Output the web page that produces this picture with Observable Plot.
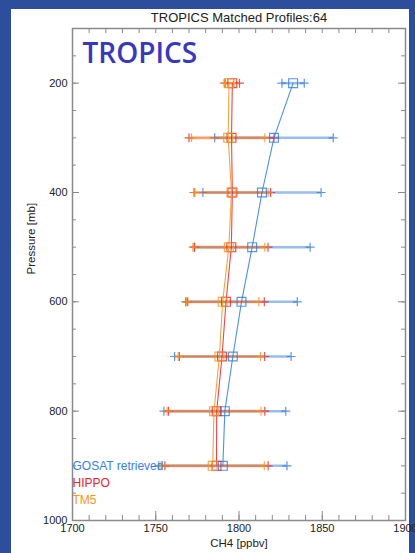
<!DOCTYPE html>
<html><head><meta charset="utf-8">
<script src="https://cdn.jsdelivr.net/npm/d3@7"></script>
<script src="https://cdn.jsdelivr.net/npm/@observablehq/plot@0.6"></script>
<style>
html,body{margin:0;padding:0;width:415px;height:553px;overflow:hidden;background:#2d4e9c;}
#panel{position:absolute;left:11px;top:9px;width:398px;height:544px;background:#fff;}
#chart{position:absolute;left:0;top:0;}
</style></head>
<body><div id="panel"></div><div id="chart"></div>
<script>
// ---- data ----
const levels = [200, 300, 400, 500, 600, 700, 800, 900];
const seriesNames = ["GOSAT retrieved", "HIPPO", "TM5"];
const gosat    = [1832.5, 1821.0, 1813.8, 1807.9, 1801.5, 1796.3, 1791.5, 1790.3];
const gosatErr = [6.7, 35.6, 35.5, 34.8, 33.5, 35.0, 36.6, 38.5];
const hippo    = [1796.0, 1795.5, 1796.0, 1795.4, 1792.2, 1789.8, 1786.6, 1786.5];
const hippoErr = [4.3, 25.5, 23.0, 22.0, 23.0, 25.6, 28.9, 31.0];
const tm5      = [1794.0, 1793.5, 1795.5, 1793.9, 1790.2, 1788.2, 1785.0, 1784.2];
const tm5Err   = [3.0, 22.0, 22.0, 21.6, 21.7, 24.7, 28.2, 31.0];
const xMajor = [1700, 1750, 1800, 1850, 1900];
const xMinor = d3.range(1700, 1901, 10);
const yMajor = [200, 400, 600, 800, 1000];
const yMinor = d3.range(100, 1001, 50);
const titleText = "TROPICS Matched Profiles:64";
const regionLabel = "TROPICS";
const xLabel = "CH4 [ppbv]";
const yLabel = "Pressure [mb]";

// ---- layout / style ----
const W = 415, H = 553, ML = 72, MR = 10, MT = 28, MB = 33;
const FW = W - ML - MR, FH = H - MT - MB;
const colors = ["#2f7be3", "#e8262b", "#f7931e"];
const legendColors = ["#3a80e6", "#e8262b", "#f7931e"];
const barWidths = [2.5, 2, 3.2];
const barOpacity = [0.5, 0.45, 0.4];
const axisColor = "#8a8a8a";

const values = [gosat, hippo, tm5];
const errs = [gosatErr, hippoErr, tm5Err];

const seriesMarks = [];
seriesNames.forEach((name, i) => {
  const rows = levels.map((p, j) => ({s: name, p, v: values[i][j], e: errs[i][j]}));
  const ends = rows.flatMap(d => [{p: d.p, x: d.v - d.e}, {p: d.p, x: d.v + d.e}]);
  seriesMarks.push(
    Plot.ruleY(rows, {y: "p", x1: d => d.v - d.e, x2: d => d.v + d.e, stroke: colors[i], strokeOpacity: barOpacity[i], strokeWidth: barWidths[i]}),
    Plot.dot(ends, {x: "x", y: "p", symbol: "plus", r: 3, stroke: colors[i], strokeWidth: 1.2, strokeOpacity: 0.8})
  );
});
seriesNames.forEach((name, i) => {
  const rows = levels.map((p, j) => ({s: name, p, v: values[i][j]}));
  seriesMarks.push(
    Plot.line(rows, {x: "v", y: "p", stroke: colors[i], strokeWidth: 1.1, strokeOpacity: 0.85}),
    Plot.dot(rows, {x: "v", y: "p", symbol: "square", r: 5, stroke: colors[i], fill: "none", strokeWidth: 1.2, strokeOpacity: 0.8})
  );
});

const legendMarks = seriesNames.map((name, i) =>
  Plot.text([name], {frameAnchor: "bottom-left", lineAnchor: "middle", textAnchor: "start",
    dy: -54 + i * 17, fontSize: 12, fill: legendColors[i]})
);

const chart = Plot.plot({
  width: W, height: H,
  marginLeft: ML, marginRight: MR, marginTop: MT, marginBottom: MB,
  style: {background: "transparent", fontFamily: "'Liberation Sans', Arial, Helvetica, sans-serif", fontSize: "11px", overflow: "visible"},
  x: {domain: [1700, 1900]},
  y: {domain: [100, 1000], reverse: true},
  marks: [
    Plot.tickX(xMinor, {x: d => d, stroke: axisColor, insetTop: FH - 5}),
    Plot.tickX(xMajor, {x: d => d, stroke: axisColor, insetTop: FH - 9}),
    Plot.tickX(xMinor, {x: d => d, stroke: axisColor, insetBottom: FH - 5}),
    Plot.tickY(yMinor, {y: d => d, stroke: axisColor, insetRight: FW - 4}),
    Plot.tickY(yMajor, {y: d => d, stroke: axisColor, insetRight: FW - 7}),
    Plot.tickY(yMinor, {y: d => d, stroke: axisColor, insetLeft: FW - 4}),
    Plot.tickY(yMajor, {y: d => d, stroke: axisColor, insetLeft: FW - 7}),
    Plot.axisX({ticks: xMajor, tickSize: 0, tickPadding: 4, tickFormat: d => String(d), label: null, anchor: "bottom", fill: "#222"}),
    Plot.axisY({ticks: yMajor, tickSize: 0, tickPadding: 5, tickFormat: d => String(d), label: null, anchor: "left", fill: "#222"}),
    ...seriesMarks,
    Plot.frame({stroke: axisColor, strokeWidth: 1.5}),
    Plot.text([titleText], {frameAnchor: "top", lineAnchor: "middle", dy: -11, fontSize: 13, fill: "#222"}),
    Plot.text([regionLabel], {frameAnchor: "top-left", lineAnchor: "middle", textAnchor: "start", dx: 10, dy: 26,
      fontSize: 28, fontWeight: 600, fontFamily: "'Open Sans', sans-serif", fill: "#3838bd"}),
    Plot.text([xLabel], {frameAnchor: "bottom", lineAnchor: "middle", dy: 23, fontSize: 11.5, fill: "#222"}),
    Plot.text([yLabel], {frameAnchor: "left", lineAnchor: "middle", dx: -41, rotate: -90, fontSize: 11.5, fill: "#222"}),
    ...legendMarks
  ]
});
document.getElementById("chart").appendChild(chart);
</script>
</body></html>
